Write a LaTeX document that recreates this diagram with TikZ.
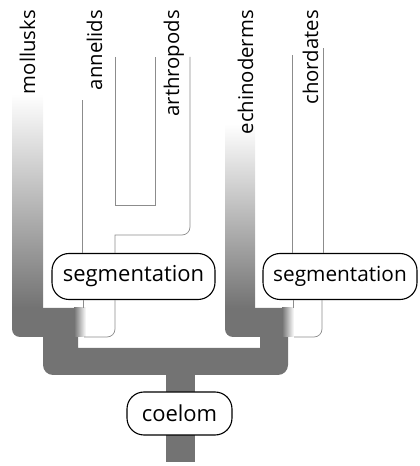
\documentclass[tikz,border=0pt]{standalone}
\usepackage{fontspec}
\setmainfont{Open Sans}
\usetikzlibrary{positioning}

\begin{document}
\begin{tikzpicture}
  [
    x=1pt,y=1pt,
    trait/.style={draw=black,line width=1.1pt,fill=white,rounded corners=17pt,minimum height=46pt,inner xsep=6pt,font=\fontsize{22}{26}\selectfont},
    taxon/.style={rotate=90,anchor=base east,inner sep=0pt,font=\fontsize{20.3}{24}\selectfont},
    faint/.style={draw=black!45,line width=0.7pt},
    branch/.style={fill=black!55}
  ]
  \useasboundingbox (0,0) rectangle (420,466);
  % thick branches
  \fill[branch] (166,4) rectangle (195,91);
  \fill[branch] (12,158) -- (12,137) arc[start angle=180,end angle=270,radius=8] -- (43,129)
    -- (43,101) arc[start angle=180,end angle=270,radius=10] -- (278,91)
    arc[start angle=270,end angle=360,radius=10] -- (288,129) -- (282,129) -- (282,158)
    -- (225,158) -- (225,137) arc[start angle=180,end angle=270,radius=8] -- (260,129)
    -- (260,118) -- (78,118) -- (78,129) -- (74,129) -- (74,158) -- cycle;
  \shade[top color=white,bottom color=black!55] (12,158) rectangle (43,372);
  \shade[top color=white,bottom color=black!55] (225,158) rectangle (255,342);
  \shade[left color=black!55,right color=white] (74,129) rectangle (86,158);
  \shade[left color=black!55,right color=white] (282,129) rectangle (294,158);
  % traits
  \node[trait,minimum width=163pt] (segL) at (133.5,189.5) {segmentation};
  \node[trait,minimum width=154pt,font=\fontsize{20.8}{25}\selectfont] (segR) at (340,189.5) {segmentation};
  \node[trait,minimum width=105pt,minimum height=43pt] (coelom) at (179.5,52.5) {coelom};
  % faint branches
  \draw[faint] (83,158) -- (segL.south -| 83,0);
  \draw[faint] (segL.south -| 115,0) -- (115,137) arc[start angle=0,end angle=-90,radius=8] -- (84,129);
  \draw[faint] (segL.north -| 82,0) -- (82,366);
  \draw[faint] (segL.north -| 115,0) -- (115,231) -- (182,231)
    arc[start angle=-90,end angle=0,radius=8] -- (190,409);
  \draw[faint] (115,409) -- (115,261) -- (155,261) -- (155,409);
  \draw[faint] (293,158) -- (segR.south -| 293,0);
  \draw[faint] (segR.south -| 322,0) -- (322,137) arc[start angle=0,end angle=-90,radius=8] -- (294,129);
  \draw[faint] (segR.north -| 292,0) -- (292,411);
  \draw[faint] (segR.north -| 323,0) -- (323,418);
  % taxa
  \node[taxon] (mollusks) at (35,456) {mollusks};
  \node[taxon] (annelids) at (102,456) {annelids};
  \node[taxon] (arthropods) at (179,456) {arthropods};
  \node[taxon] (echinoderms) at (253,456) {echinoderms};
  \node[taxon] (chordates) at (318,456) {chordates};
\end{tikzpicture}
\end{document}
